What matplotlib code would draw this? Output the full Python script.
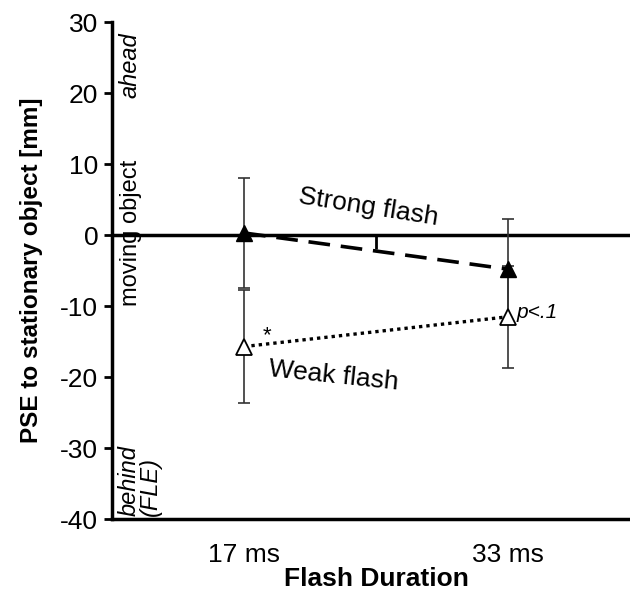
import matplotlib.pyplot as plt
from matplotlib.transforms import blended_transform_factory

plt.rcParams['font.family'] = ['Liberation Sans', 'DejaVu Sans']
plt.rcParams['axes.unicode_minus'] = False

# данные
durations = ['17 ms', '33 ms']
strong_pse = [0.3, -4.8]
strong_err = [7.7, 7.1]
weak_pse = [-15.7, -11.5]
weak_err = [8.0, 7.2]
y_ticks = [30, 20, 10, 0, -10, -20, -30, -40]

x = list(range(len(durations)))

fig = plt.figure(figsize=(6.3, 5.98), dpi=100)
# ось выходит за правый край картинки, как в оригинале
ax = fig.add_axes([0.178, 0.132, 0.838, 0.831])

ax.errorbar(x, strong_pse, yerr=strong_err, fmt='none', ecolor='#333333',
            elinewidth=1.2, capsize=4.5, capthick=1.2, zorder=2)
ax.errorbar(x, weak_pse, yerr=weak_err, fmt='none', ecolor='#333333',
            elinewidth=1.2, capsize=4.5, capthick=1.2, zorder=2)

ax.plot(x, strong_pse, color='black', lw=2.6, dashes=(6, 3), zorder=3)
ax.plot(x, strong_pse, linestyle='none', marker='^', ms=12,
        mfc='black', mec='black', zorder=4)
ax.plot(x, weak_pse, color='black', lw=2.4, linestyle=(0, (1, 1.2)), zorder=3)
ax.plot(x, weak_pse, linestyle='none', marker='^', ms=12,
        mfc='white', mec='black', mew=1.3, zorder=4)

ax.set_xlim(-0.5, 1.5)
ax.set_ylim(-40, 30)
ax.set_yticks(y_ticks)
ax.tick_params(axis='y', direction='out', length=6, width=2, labelsize=19, pad=4)
ax.set_xticks(x)
ax.set_xticklabels(durations)
ax.tick_params(axis='x', length=0, labelsize=19, pad=17)

for s in ['top', 'right']:
    ax.spines[s].set_visible(False)
ax.spines['left'].set_linewidth(2.5)
ax.spines['bottom'].set_linewidth(2.5)

# нулевая линия с делением между категориями
ax.axhline(0, color='black', lw=2.5, zorder=1)
zero_frac = (0 - (-40)) / 70
sec = ax.secondary_xaxis(zero_frac)
for s in sec.spines.values():
    s.set_visible(False)
sec.set_xticks([0.5])
sec.set_xticklabels([])
sec.tick_params(direction='in', length=10, width=2)

ax.set_ylabel('PSE to stationary object [mm]', fontsize=17.5, fontweight='bold',
              labelpad=12)
ax.set_xlabel('Flash Duration', fontsize=19, fontweight='bold', labelpad=0)

tr = blended_transform_factory(ax.transAxes, ax.transData)
ax.text(0.034, 24, 'ahead', transform=tr, rotation=90, style='italic',
        fontsize=17, ha='center', va='center')
ax.text(0.036, 0.3, 'moving object', transform=tr, rotation=90,
        fontsize=17, ha='center', va='center')
ax.text(0.052, -39.6, 'behind\n(FLE)', transform=tr, rotation=90,
        style='italic', fontsize=17, ha='center', va='bottom',
        multialignment='left', linespacing=0.9)

ax.text(0.47, 4.0, 'Strong flash', rotation=-9, fontsize=19,
        ha='center', va='center')
ax.text(0.34, -19.8, 'Weak flash', rotation=-6, fontsize=19,
        ha='center', va='center')
ax.text(0.085, -14.2, '*', fontsize=16, ha='center', va='center')
ax.text(1.11, -10.9, 'p<.1', fontsize=15, style='italic',
        ha='center', va='center')

fig.savefig('out.png', dpi=100)
